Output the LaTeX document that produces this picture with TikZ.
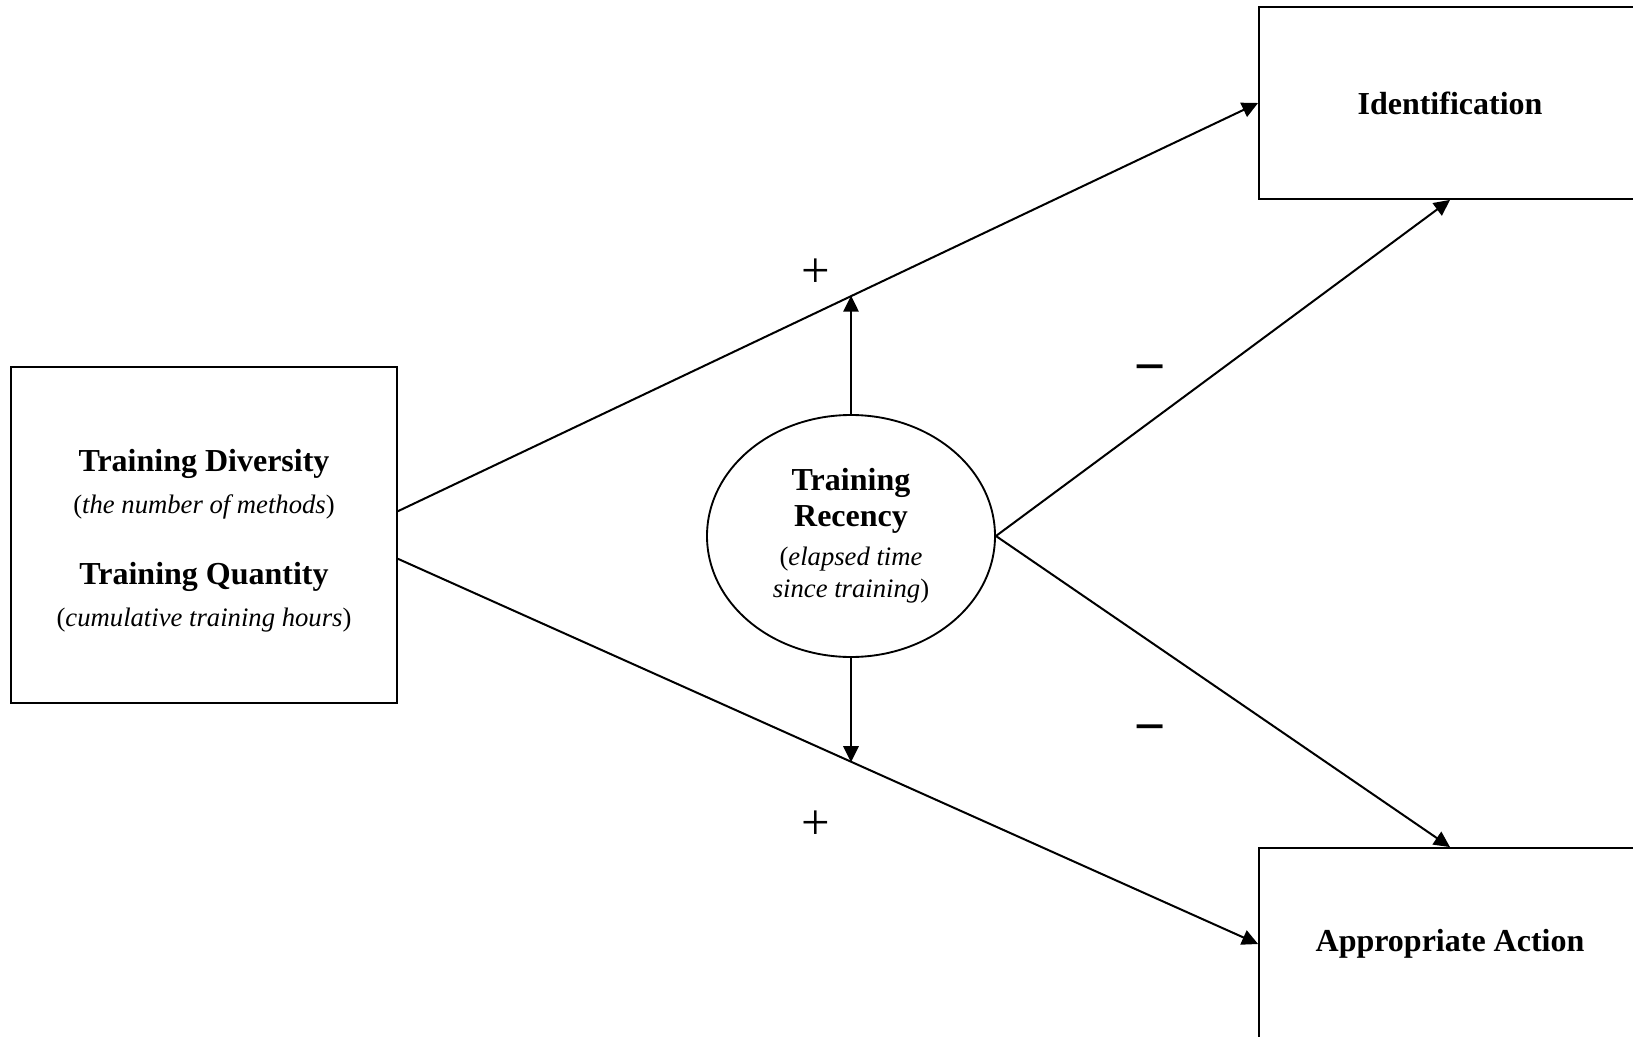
\documentclass[tikz,border=0pt]{standalone}
\usepackage{fontspec}
\setmainfont{Liberation Serif}
\setsansfont{Liberation Sans}
\usetikzlibrary{shapes.geometric,arrows.meta}

\newcommand{\namefont}{\fontsize{24}{31.5}\selectfont\bfseries}
\newcommand{\notefont}{\fontsize{20}{24}\selectfont}

\tikzset{
  varbox/.style={draw, line width=1.4pt, rectangle, inner sep=0pt, align=center},
  moderator/.style={draw, line width=1.4pt, ellipse, inner sep=0pt, align=center},
  link/.style={line width=1.5pt, -{Triangle[length=12pt,width=11.5pt]}},
  plustext/.style={font=\fontsize{38}{38}\selectfont, inner sep=0pt},
  minustext/.style={font=\sffamily\fontsize{40}{40}\selectfont, inner sep=0pt}
}

\begin{document}
\begin{tikzpicture}[x=0.75pt,y=0.75pt,yscale=-1,xscale=1]
\useasboundingbox (0,0) rectangle (1633,1037);

% predictors
\node[varbox, minimum width=289.5pt, minimum height=252pt] (predictor) at (204,535) {};

\node[align=center, inner sep=0pt, font=\fontsize{24}{31.5}\selectfont] (predictortext) at (204,541) {{\namefont Training Diversity}\\ {\notefont (\textit{the number of methods})}\\[21.5pt] {\namefont Training Quantity}\\[0.5pt] {\notefont (\textit{cumulative training hours})}};

% outcomes
\node[varbox, minimum width=286.5pt, minimum height=144pt] (ident) at (1450,103) {\namefont Identification};

\node[varbox, minimum width=286.5pt, minimum height=144pt] (action) at (1450,944) {\namefont Appropriate Action};

% moderator
\node[moderator, minimum width=216pt, minimum height=181.5pt, font=\fontsize{24}{24}\selectfont] (recency) at (851,536) {{\namefont Training}\\[3pt] {\namefont Recency}\\[5.5pt] {\notefont (\textit{elapsed time}}\\ {\notefont \textit{since training})}};

% paths
\draw[link] (predictor.7) -- coordinate[pos=0.528] (upjoin) (ident.west);

\draw[link] (predictor.-7) -- coordinate[pos=0.528] (downjoin) (action.west);

\draw[link] (recency.north) -- (recency.north |- upjoin);

\draw[link] (recency.south) -- (recency.south |- downjoin);

\draw[link] (recency.east) -- (ident.south);

\draw[link] (recency.east) -- (action.north);

% signs
\node[plustext] (plusup) at (816,273) {+};

\node[plustext] (plusdown) at (816,825) {+};

\node[minustext] (minusup) at (1150,369) {\vphantom{+}−};

\node[minustext] (minusdown) at (1150,729) {\vphantom{+}−};

\end{tikzpicture}
\end{document}
